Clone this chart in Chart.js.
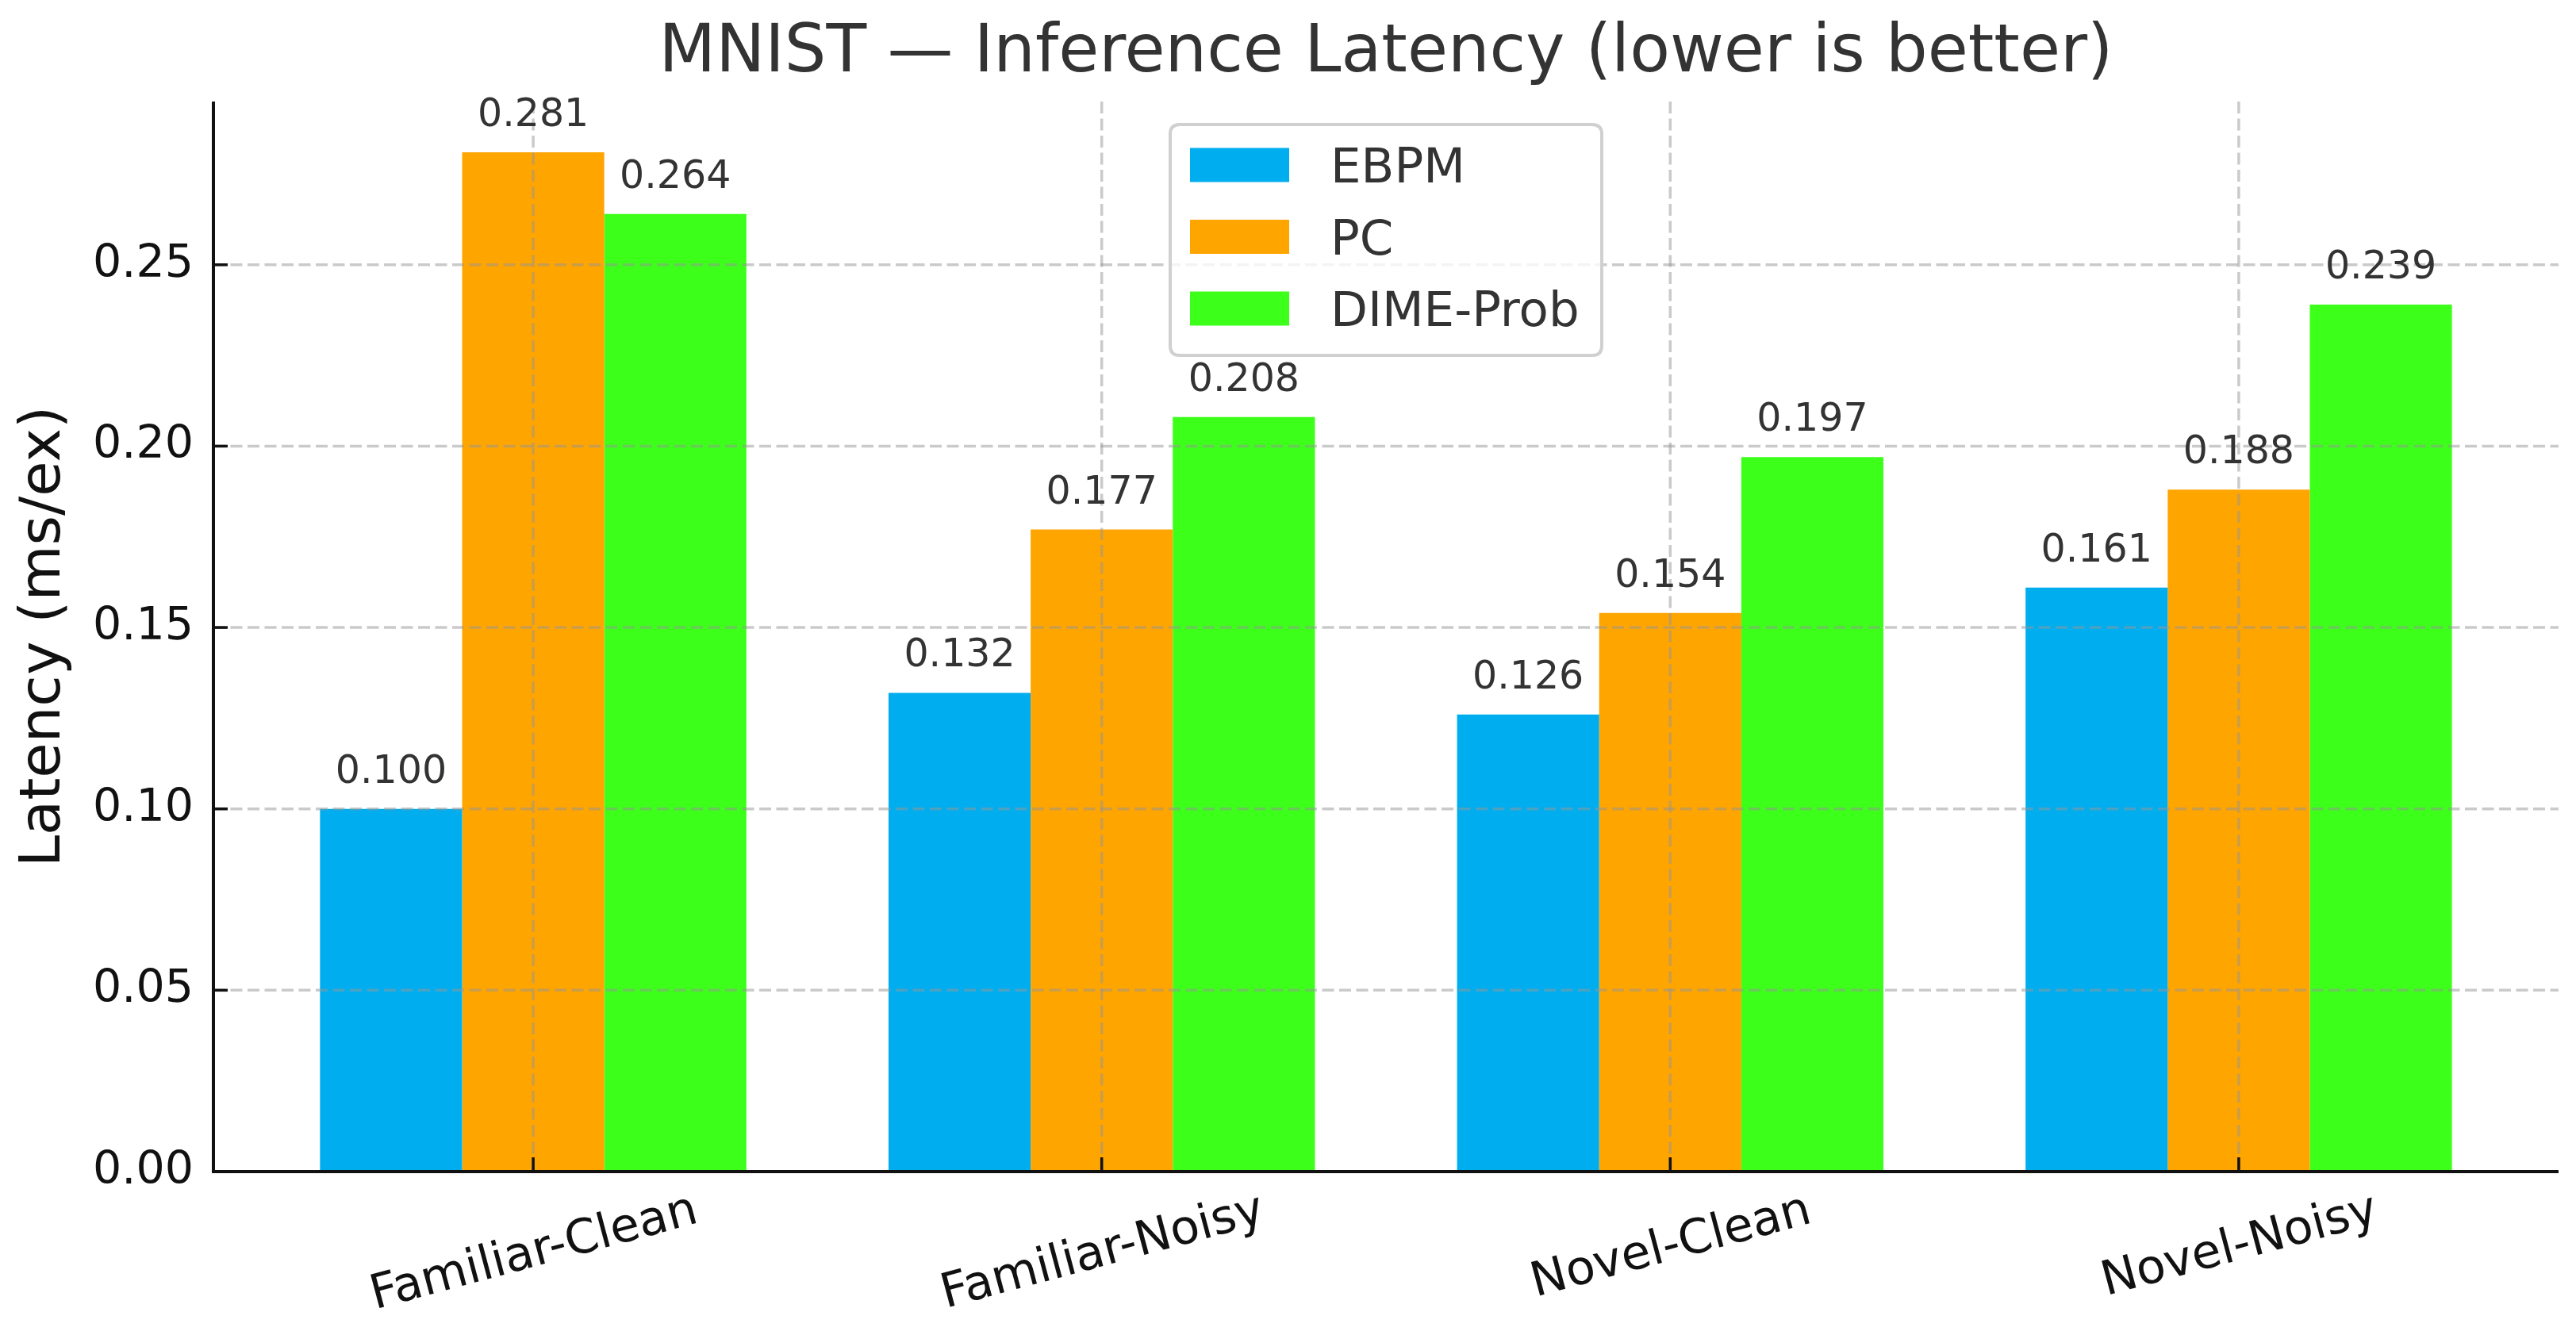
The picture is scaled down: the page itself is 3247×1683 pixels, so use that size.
<!DOCTYPE html>
<html>
<head>
<meta charset="utf-8">
<script src="https://cdn.jsdelivr.net/npm/chart.js@4.4.1/dist/chart.umd.min.js"></script>
<style>
  html, body { margin: 0; padding: 0; background: #fff; }
  canvas { display: block; }
</style>
</head>
<body>
<canvas id="chart" width="3247" height="1683" style="width:3247px;height:1683px"></canvas>
<script>
/* MNIST inference latency - grouped bars */

var categories = ['Familiar-Clean', 'Familiar-Noisy', 'Novel-Clean', 'Novel-Noisy'];
var seriesNames = ['EBPM', 'PC', 'DIME-Prob'];
var ebpmValues = [0.100, 0.132, 0.126, 0.161];
var pcValues = [0.281, 0.177, 0.154, 0.188];
var dimeValues = [0.264, 0.208, 0.197, 0.239];
var yTicks = [0.00, 0.05, 0.10, 0.15, 0.20, 0.25];

var colors = ['#00AEEF', '#FFA500', '#3CFF1A'];
var FONT = "'DejaVu Sans', 'Liberation Sans', sans-serif";
var TITLE = 'MNIST \u2014 Inference Latency (lower is better)';

function toPoints(values) {
    return values.map(function(v, i) { return { x: i, y: v }; });
}

var allValues = [ebpmValues, pcValues, dimeValues];

// grid, spines, value labels, legend and x labels drawn over the bars
var overlayPlugin = {
    id: 'overlay',
    afterDatasetsDraw: function(chart) {
        var ctx = chart.ctx;
        var xs = chart.scales.x;
        var ys = chart.scales.y;
        var area = chart.chartArea;

        // title centred over the plot area
        ctx.save();
        ctx.fillStyle = '#333';
        ctx.font = '83px ' + FONT;
        ctx.textAlign = 'center';
        ctx.textBaseline = 'middle';
        ctx.fillText(TITLE, (area.left + area.right) / 2, 68);
        ctx.restore();

        // dashed grid on top of bars
        ctx.save();
        ctx.strokeStyle = 'rgba(150,150,150,0.5)';
        ctx.lineWidth = 3.5;
        ctx.setLineDash([15, 6.5]);
        yTicks.forEach(function(t) {
            var y = ys.getPixelForValue(t);
            ctx.beginPath();
            ctx.moveTo(area.left, y);
            ctx.lineTo(area.right, y);
            ctx.stroke();
        });
        categories.forEach(function(c, i) {
            var x = xs.getPixelForValue(i);
            ctx.beginPath();
            ctx.moveTo(x, area.top);
            ctx.lineTo(x, area.bottom);
            ctx.stroke();
        });
        ctx.restore();

        // spines and inward ticks
        ctx.save();
        ctx.strokeStyle = '#111';
        ctx.lineWidth = 4;
        ctx.beginPath();
        ctx.moveTo(area.left, area.top);
        ctx.lineTo(area.left, area.bottom);
        ctx.lineTo(area.right, area.bottom);
        ctx.stroke();
        ctx.lineWidth = 3.5;
        yTicks.forEach(function(t) {
            var y = ys.getPixelForValue(t);
            ctx.beginPath();
            ctx.moveTo(area.left, y);
            ctx.lineTo(area.left + 18, y);
            ctx.stroke();
        });
        categories.forEach(function(c, i) {
            var x = xs.getPixelForValue(i);
            ctx.beginPath();
            ctx.moveTo(x, area.bottom);
            ctx.lineTo(x, area.bottom - 18);
            ctx.stroke();
        });
        ctx.restore();

        // value labels
        ctx.save();
        ctx.fillStyle = '#333';
        ctx.font = '49px ' + FONT;
        ctx.textAlign = 'center';
        ctx.textBaseline = 'alphabetic';
        chart.data.datasets.forEach(function(ds, di) {
            var meta = chart.getDatasetMeta(di);
            meta.data.forEach(function(bar, i) {
                ctx.fillText(allValues[di][i].toFixed(3), bar.x, bar.y - 33);
            });
        });
        ctx.restore();

        // x category labels, rotated 15deg, centred under tick
        ctx.save();
        var fs = 60;
        ctx.font = fs + 'px ' + FONT;
        ctx.fillStyle = '#111';
        ctx.textAlign = 'center';
        ctx.textBaseline = 'alphabetic';
        var ang = 15 * Math.PI / 180;
        var boxTop = area.bottom + 10;
        categories.forEach(function(c, i) {
            var x = xs.getPixelForValue(i);
            var w = ctx.measureText(c).width;
            var h = 1.164 * fs;
            var boxH = w * Math.sin(ang) + h * Math.cos(ang);
            ctx.save();
            ctx.translate(x, boxTop + boxH / 2);
            ctx.rotate(-ang);
            ctx.fillText(c, 0, 0.346 * fs);
            ctx.restore();
        });
        ctx.restore();

        // legend box inside plot
        ctx.save();
        var lx = 1475, ly = 157, lw = 544, lh = 291, r = 12;
        ctx.beginPath();
        ctx.moveTo(lx + r, ly);
        ctx.lineTo(lx + lw - r, ly);
        ctx.quadraticCurveTo(lx + lw, ly, lx + lw, ly + r);
        ctx.lineTo(lx + lw, ly + lh - r);
        ctx.quadraticCurveTo(lx + lw, ly + lh, lx + lw - r, ly + lh);
        ctx.lineTo(lx + r, ly + lh);
        ctx.quadraticCurveTo(lx, ly + lh, lx, ly + lh - r);
        ctx.lineTo(lx, ly + r);
        ctx.quadraticCurveTo(lx, ly, lx + r, ly);
        ctx.closePath();
        ctx.fillStyle = 'rgba(255,255,255,0.8)';
        ctx.fill();
        ctx.strokeStyle = '#d0d0d0';
        ctx.lineWidth = 4;
        ctx.stroke();
        ctx.font = '61px ' + FONT;
        ctx.textAlign = 'left';
        ctx.textBaseline = 'alphabetic';
        chart.data.datasets.forEach(function(ds, di) {
            var cy = 208 + di * 90.5;
            ctx.fillStyle = ds.backgroundColor;
            ctx.fillRect(1500, cy - 21.5, 125, 43);
            ctx.fillStyle = '#333';
            ctx.fillText(ds.label, 1677, cy + 22);
        });
        ctx.restore();
    }
};

new Chart(document.getElementById('chart'), {
    type: 'bar',
    data: {
        datasets: [
            { label: seriesNames[0], data: toPoints(ebpmValues), backgroundColor: colors[0], borderWidth: 0 },
            { label: seriesNames[1], data: toPoints(pcValues), backgroundColor: colors[1], borderWidth: 0 },
            { label: seriesNames[2], data: toPoints(dimeValues), backgroundColor: colors[2], borderWidth: 0 }
        ]
    },
    options: {
        responsive: false,
        devicePixelRatio: 1,
        animation: false,
        events: [],
        categoryPercentage: 0.75,
        barPercentage: 1.0,
        layout: { padding: { left: 0, right: 22, top: 128, bottom: 0 } },
        plugins: {
            legend: { display: false },
            tooltip: { enabled: false },
            title: { display: false }
        },
        scales: {
            x: {
                type: 'linear',
                offset: false,
                min: -0.5625,
                max: 3.5625,
                grid: { display: false, drawTicks: false },
                border: { display: false },
                ticks: { display: false, stepSize: 1, includeBounds: false },
                afterBuildTicks: function(scale) {
                    scale.ticks = categories.map(function(c, i) { return { value: i }; });
                },
                afterFit: function(scale) { scale.height = 206; }
            },
            y: {
                min: 0,
                max: 0.295,
                grid: { display: false, drawTicks: false },
                border: { display: false },
                ticks: {
                    stepSize: 0.05,
                    includeBounds: false,
                    padding: 25,
                    color: '#111',
                    font: { family: FONT, size: 57 },
                    callback: function(v) { return Number(v).toFixed(2); }
                },
                title: {
                    display: true,
                    text: 'Latency (ms/ex)',
                    color: '#111',
                    font: { family: FONT, size: 72, lineHeight: 1.2 },
                    padding: { top: 13, bottom: 0 }
                },
                afterFit: function(scale) { scale.width = 269; }
            }
        }
    },
    plugins: [overlayPlugin]
});
</script>
</body>
</html>
